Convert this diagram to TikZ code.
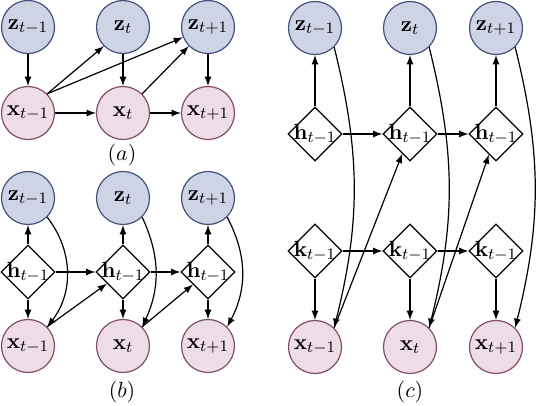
\documentclass[tikz,border=0pt]{standalone}
\usetikzlibrary{shapes.geometric}
\definecolor{zfill}{RGB}{206,212,229}
\definecolor{zline}{RGB}{68,80,124}
\definecolor{xfill}{RGB}{238,220,231}
\definecolor{xline}{RGB}{128,78,108}
\begin{document}
\begin{tikzpicture}[
       x=0.5pt,y=-0.5pt,
       semithick,
       >=latex,
       every node/.style={font=\fontsize{11}{13}\selectfont},
       latent/.style={
         circle,
         fill=zfill,
         draw=zline,
         inner sep=0pt,
         minimum size=26.5pt
       },
       observe/.style={
         circle,
         fill=xfill,
         draw=xline,
         inner sep=0pt,
         minimum size=26.5pt
       },
       determ/.style={
         diamond,
         draw=black,
         aspect=1,
         inner sep=-2.5pt,
         minimum size=27pt
       }
     ]
       \useasboundingbox (0,0) rectangle (536,406);

       \node (za1) at (28,27) [latent]{$\mathbf{z}_{t-1}$};
       \node (za2) at (123,27) [latent]{$\mathbf{z}_{t}$};
       \node (za3) at (208,27) [latent]{$\mathbf{z}_{t+1}$};
       \node (xa1) at (28,113) [observe]{$\mathbf{x}_{t-1}$};
       \node (xa2) at (123,113) [observe]{$\mathbf{x}_{t}$};
       \node (xa3) at (208,113) [observe]{$\mathbf{x}_{t+1}$};
       \node (capa) at (122,155) {$(a)$};

       \draw[->] (za1) -- (xa1);
       \draw[->] (za2) -- (xa2);
       \draw[->] (za3) -- (xa3);
       \draw[->] (xa1) -- (xa2);
       \draw[->] (xa2) -- (xa3);
       \draw[->] (xa1.north east) -- (za2.south west);
       \draw[->] (xa1.north east) -- (za3);
       \draw[->] (xa2.north east) -- (za3.south west);

       \node (zb1) at (28,198) [latent]{$\mathbf{z}_{t-1}$};
       \node (zb2) at (123,198) [latent]{$\mathbf{z}_{t}$};
       \node (zb3) at (208,198) [latent]{$\mathbf{z}_{t+1}$};
       \node (hb1) at (28,272) [determ]{$\mathbf{h}_{t-1}$};
       \node (hb2) at (123,272) [determ]{$\mathbf{h}_{t-1}$};
       \node (hb3) at (208,272) [determ]{$\mathbf{h}_{t-1}$};
       \node (xb1) at (28,346) [observe]{$\mathbf{x}_{t-1}$};
       \node (xb2) at (123,346) [observe]{$\mathbf{x}_{t}$};
       \node (xb3) at (208,346) [observe]{$\mathbf{x}_{t+1}$};
       \node (capb) at (122,392) {$(b)$};

       \draw[->] (hb1) -- (zb1);
       \draw[->] (hb2) -- (zb2);
       \draw[->] (hb3) -- (zb3);
       \draw[->] (hb1) -- (xb1);
       \draw[->] (hb2) -- (xb2);
       \draw[->] (hb3) -- (xb3);
       \draw[->] (hb1) -- (hb2);
       \draw[->] (hb2) -- (hb3);
       \draw[->] (xb1.north east) -- (hb2);
       \draw[->] (xb2.north east) -- (hb3);
       \draw[->] (zb1.south east) to[bend left=38] (xb1.north east);
       \draw[->] (zb2.south east) to[bend left=25] (xb2.north east);
       \draw[->] (zb3.south east) to[bend left=28] (xb3.north east);

       \node (zc1) at (315,28) [latent]{$\mathbf{z}_{t-1}$};
       \node (zc2) at (410,28) [latent]{$\mathbf{z}_{t}$};
       \node (zc3) at (496,28) [latent]{$\mathbf{z}_{t+1}$};
       \node (hc1) at (315,134) [determ]{$\mathbf{h}_{t-1}$};
       \node (hc2) at (410,134) [determ]{$\mathbf{h}_{t-1}$};
       \node (hc3) at (496,134) [determ]{$\mathbf{h}_{t-1}$};
       \node (kc1) at (315,251) [determ]{$\mathbf{k}_{t-1}$};
       \node (kc2) at (410,251) [determ]{$\mathbf{k}_{t-1}$};
       \node (kc3) at (496,251) [determ]{$\mathbf{k}_{t-1}$};
       \node (xc1) at (315,347) [observe]{$\mathbf{x}_{t-1}$};
       \node (xc2) at (410,347) [observe]{$\mathbf{x}_{t}$};
       \node (xc3) at (496,347) [observe]{$\mathbf{x}_{t+1}$};
       \node (capc) at (410,392) {$(c)$};

       \draw[->] (hc1) -- (zc1);
       \draw[->] (hc2) -- (zc2);
       \draw[->] (hc3) -- (zc3);
       \draw[->] (hc1) -- (hc2);
       \draw[->] (hc2) -- (hc3);
       \draw[->] (kc1) -- (kc2);
       \draw[->] (kc2) -- (kc3);
       \draw[->] (kc1) -- (xc1);
       \draw[->] (kc2) -- (xc2);
       \draw[->] (kc3) -- (xc3);
       \draw[->] (xc1.north east) -- (hc2);
       \draw[->] (xc2.north east) -- (hc3);
       \draw[->] (zc1.south east) to[bend left=14] (xc1.north east);
       \draw[->] (zc2.south east) to[bend left=14] (xc2.north east);
       \draw[->] (zc3.south east) to[bend left=14] (xc3.north east);

\end{tikzpicture}
\end{document}
